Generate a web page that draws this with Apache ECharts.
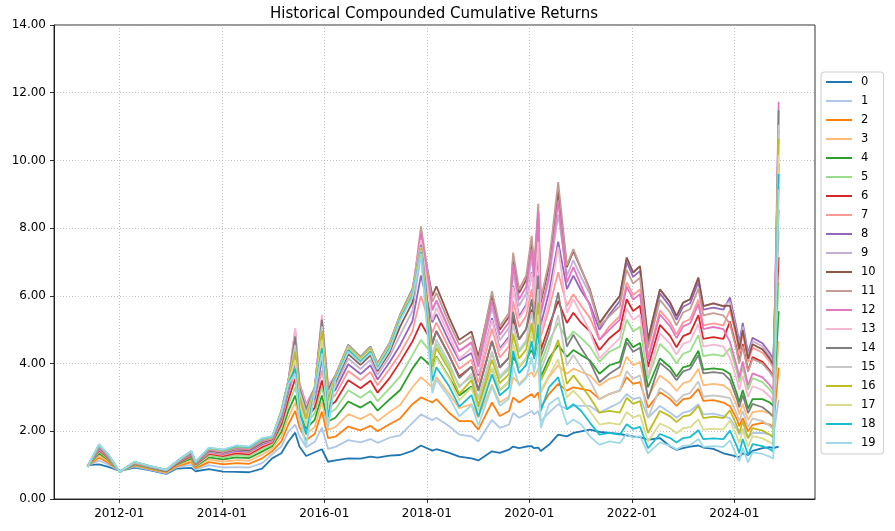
<!DOCTYPE html>
<html><head><meta charset="utf-8">
<script src="https://cdn.jsdelivr.net/npm/echarts@6/dist/echarts.min.js"></script>
<style>html,body{margin:0;padding:0;background:#fff}#chart{width:895px;height:531px}</style>
</head><body><div id="chart"></div>
<script>
const dates = [
'2011-05-20','2011-08-10','2011-10-15','2012-01-05','2012-04-20','2012-08-01','2012-12-01','2013-02-15','2013-05-28','2013-06-28',
'2013-10-01','2014-01-10','2014-04-15','2014-07-15','2014-10-15','2014-12-25','2015-03-01','2015-04-20','2015-06-08','2015-07-08',
'2015-08-25','2015-10-25','2015-12-15','2016-01-28','2016-03-20','2016-06-20','2016-09-15','2016-11-25','2017-01-15','2017-04-10',
'2017-06-25','2017-09-20','2017-11-20','2018-02-09','2018-03-10','2018-06-10','2018-08-20','2018-11-15','2019-01-03','2019-04-10',
'2019-06-05','2019-08-10','2019-09-08','2019-10-20','2019-12-10','2020-01-18','2020-02-05','2020-03-05','2020-03-23','2020-05-20',
'2020-07-25','2020-09-25','2020-11-10','2021-01-05','2021-03-08','2021-05-15','2021-07-25','2021-10-07','2021-11-25','2022-01-10',
'2022-02-28','2022-04-26','2022-07-20','2022-10-01','2022-11-15','2023-01-01','2023-02-20','2023-04-20','2023-05-25','2023-08-05',
'2023-10-15','2023-12-01','2024-01-20','2024-02-05','2024-03-01','2024-04-08','2024-05-10','2024-07-20','2024-09-10','2024-10-05',
'2024-11-12'];

const s0 = [1.00,1.02,0.95,0.83,0.93,0.85,0.74,0.90,0.92,0.82, 0.88,0.81,0.80,0.79,0.90,1.20,1.35,1.70,1.96,1.55, 1.27,1.38,1.47,1.10,1.14,1.20,1.19,1.25,1.22,1.28, 1.30,1.42,1.58,1.43,1.47,1.36,1.25,1.20,1.14,1.41, 1.36,1.46,1.55,1.50,1.55,1.56,1.50,1.52,1.42,1.60, 1.90,1.85,1.95,2.00,2.05,1.98,1.95,1.92,1.88,1.85, 1.83,1.75,1.80,1.55,1.45,1.50,1.55,1.58,1.52,1.48, 1.35,1.30,1.25,1.24,1.35,1.30,1.42,1.50,1.53,1.50, 1.55];
const s1 = [0.99,1.13,1.02,0.82,0.96,0.87,0.76,0.94,1.01,0.87, 1.00,0.93,0.94,0.93,1.06,1.32,1.55,1.99,2.20,1.86, 1.53,1.69,2.11,1.48,1.54,1.74,1.67,1.77,1.66,1.81, 1.88,2.25,2.50,2.33,2.40,2.15,1.90,1.85,1.70,2.34, 2.10,2.20,2.54,2.40,2.50,2.60,2.50,2.60,2.30,2.55, 2.80,2.65,2.75,2.75,2.75,2.55,2.70,2.85,3.10,2.95, 3.00,2.40,2.75,2.55,2.40,2.55,2.60,2.80,2.50,2.52, 2.45,2.38,2.05,1.90,2.08,1.80,1.95,1.95,1.90,1.85, 2.93];
const s2 = [0.98,1.22,1.07,0.82,0.99,0.89,0.78,0.97,1.09,0.91, 1.09,1.02,1.06,1.04,1.20,1.41,1.70,2.20,2.60,2.12, 1.74,1.92,2.58,1.80,1.84,2.14,2.03,2.16,2.00,2.21, 2.38,2.80,3.00,2.85,2.95,2.54,2.30,2.30,2.05,2.85, 2.45,2.60,3.00,2.85,3.00,3.10,3.00,3.15,2.70,3.10, 3.40,3.20,3.30,3.25,3.20,2.95,3.10,3.20,3.60,3.40, 3.45,2.70,3.15,2.95,2.75,2.95,2.98,3.25,2.90,2.92, 2.85,2.74,2.35,2.15,2.39,2.00,2.19,2.25,2.20,2.12, 3.88];
const s3 = [0.98,1.29,1.12,0.82,1.01,0.91,0.79,1.00,1.15,0.95, 1.17,1.10,1.15,1.13,1.31,1.49,1.84,2.40,2.85,2.33, 1.91,2.13,2.86,2.05,2.12,2.51,2.36,2.52,2.30,2.57, 2.78,3.30,3.60,3.30,3.60,3.10,2.68,2.80,2.40,3.38, 2.85,3.03,3.60,3.40,3.60,3.75,3.60,3.85,3.15,3.60, 3.95,3.70,3.85,3.75,3.65,3.35,3.55,3.65,4.20,3.95, 4.05,3.00,3.65,3.42,3.19,3.42,3.48,3.85,3.36,3.40, 3.36,3.21,2.75,2.50,2.81,2.33,2.57,2.60,2.52,2.42, 4.66];
const s4 = [0.97,1.35,1.15,0.81,1.02,0.92,0.81,1.02,1.20,0.97, 1.23,1.17,1.23,1.21,1.40,1.56,1.98,2.60,3.05,2.53, 2.08,2.34,3.06,2.29,2.40,2.88,2.70,2.88,2.61,2.94, 3.22,3.85,4.20,3.90,4.21,3.58,3.06,3.32,2.73,3.87, 3.21,3.47,4.20,3.90,4.16,4.40,4.20,4.60,3.60,4.15, 4.55,4.20,4.40,4.25,4.10,3.70,3.95,4.05,4.75,4.48, 4.61,3.30,4.15,3.89,3.62,3.89,3.95,4.38,3.82,3.86, 3.82,3.69,3.10,2.85,3.22,2.67,2.95,2.95,2.85,2.75, 5.55];
const s5 = [0.97,1.40,1.18,0.81,1.04,0.93,0.82,1.04,1.24,0.99, 1.28,1.22,1.29,1.27,1.47,1.61,2.10,2.78,3.30,2.72, 2.23,2.53,3.30,2.52,2.65,3.21,2.99,3.20,2.89,3.27, 3.62,4.25,4.70,4.26,4.58,3.91,3.34,3.61,2.98,4.30, 3.57,3.85,4.80,4.34,4.62,5.05,4.70,5.30,4.00,4.65, 5.20,4.70,4.95,4.75,4.50,4.05,4.35,4.50,5.30,4.95, 5.09,3.55,4.58,4.29,4.00,4.29,4.37,4.84,4.22,4.27, 4.22,4.46,3.75,3.45,3.90,3.23,3.57,3.45,3.23,3.09, 6.40];
const s6 = [0.97,1.44,1.21,0.81,1.05,0.94,0.82,1.05,1.27,1.02, 1.33,1.27,1.35,1.32,1.53,1.66,2.21,2.94,3.55,2.88, 2.37,2.70,3.50,2.72,2.87,3.51,3.27,3.49,3.14,3.57, 4.05,4.65,5.20,4.62,4.96,4.23,3.62,3.91,3.23,4.67, 3.88,4.18,5.35,4.71,5.02,5.60,5.10,5.95,4.40,5.10, 5.85,5.20,5.50,5.20,4.95,4.40,4.75,5.00,5.90,5.55, 5.71,3.90,5.14,4.81,4.48,4.81,4.90,5.43,4.73,4.78, 4.73,5.24,4.40,4.05,4.58,3.79,4.19,4.05,3.79,3.63, 7.14];
const s7 = [0.96,1.47,1.23,0.81,1.06,0.95,0.83,1.07,1.30,1.03, 1.36,1.30,1.39,1.36,1.58,1.69,2.31,3.09,3.80,3.03, 2.49,2.86,3.80,2.90,3.07,3.78,3.51,3.75,3.36,3.84, 4.30,4.95,6.00,4.92,5.21,4.44,3.85,4.11,3.44,5.03, 4.18,4.51,5.85,5.08,5.41,6.20,5.60,6.60,4.80,5.60, 6.70,5.70,6.05,5.70,5.35,4.70,5.10,5.40,6.40,6.02, 6.19,4.20,5.57,5.22,4.86,5.22,5.31,5.89,5.13,5.19, 5.13,5.59,4.70,4.32,4.89,4.05,4.47,4.32,4.05,3.87, 7.90];
const s8 = [0.96,1.50,1.25,0.81,1.07,0.95,0.84,1.08,1.32,1.04, 1.39,1.33,1.42,1.40,1.62,1.72,2.39,3.19,4.05,3.16, 2.60,2.97,4.10,3.06,3.22,3.98,3.69,3.95,3.53,4.04, 4.55,5.25,6.60,5.22,5.46,4.65,4.09,4.31,3.65,5.34, 4.44,4.79,6.30,5.39,5.74,6.70,6.00,7.20,5.15,6.10, 7.60,6.20,6.60,6.15,5.75,5.00,5.45,5.85,7.00,6.56, 6.74,4.60,6.07,5.68,5.29,5.68,5.78,6.41,5.59,5.65, 5.59,5.95,5.00,4.60,5.20,4.31,4.76,4.60,4.31,4.12, 8.55];
const s9 = [0.96,1.52,1.26,0.80,1.07,0.96,0.84,1.08,1.34,1.05, 1.41,1.35,1.45,1.42,1.65,1.74,2.45,3.28,4.30,3.27, 2.69,3.07,4.40,3.19,3.35,4.15,3.84,4.11,3.67,4.20, 4.85,5.55,7.20,5.58,5.84,4.98,4.37,4.60,3.91,5.65, 4.69,5.06,6.70,5.70,6.07,7.15,6.35,7.80,5.45,6.50, 8.40,6.60,7.05,6.55,6.05,5.15,5.60,6.00,7.13,6.69, 6.88,4.71,6.19,5.80,5.40,5.80,5.90,6.54,5.70,5.78, 5.70,5.83,4.90,4.51,5.10,4.22,4.66,4.51,4.22,4.04, 9.20];
const s10 = [0.96,1.54,1.27,0.80,1.08,0.96,0.84,1.09,1.35,1.06, 1.43,1.37,1.47,1.44,1.67,1.76,2.50,3.36,4.55,3.34, 2.75,3.15,4.70,3.28,3.45,4.28,3.96,4.24,3.78,4.33, 5.10,5.80,7.80,6.00,6.28,5.35,4.70,4.95,4.20,6.02, 5.00,5.39,7.13,6.08,6.47,7.60,6.76,8.45,5.80,6.85, 9.10,6.85,7.32,6.78,6.19,5.20,5.60,6.00,7.13,6.69, 6.88,4.71,6.19,5.80,5.40,5.80,5.90,6.54,5.70,5.78, 5.70,5.71,4.80,4.42,4.99,4.14,4.57,4.42,4.14,3.96, 9.90];
const s11 = [0.96,1.55,1.28,0.80,1.08,0.97,0.85,1.10,1.37,1.07, 1.45,1.39,1.49,1.47,1.70,1.78,2.55,3.43,4.80,3.40, 2.80,3.22,5.00,3.35,3.55,4.42,4.08,4.37,3.89,4.47, 5.30,6.00,8.05,5.82,6.09,5.19,4.56,4.80,4.07,6.14, 5.10,5.50,7.28,6.20,6.60,7.77,6.90,8.72,5.90,7.00, 9.36,6.90,7.38,6.80,6.15,5.10,5.40,5.70,6.77,6.36, 6.54,4.45,5.88,5.51,5.13,5.51,5.61,6.21,5.42,5.49, 5.42,5.18,4.35,4.00,4.52,3.75,4.14,4.00,3.75,3.58, 10.90];
const s12 = [0.95,1.57,1.29,0.80,1.08,0.97,0.85,1.10,1.38,1.07, 1.46,1.40,1.51,1.48,1.72,1.79,2.59,3.48,5.00,3.40, 2.80,3.28,5.30,3.35,3.62,4.52,4.17,4.47,3.97,4.57, 5.42,6.15,7.85,5.58,5.87,5.00,4.37,4.63,3.91,5.83, 4.85,5.23,6.92,5.89,6.27,7.38,6.56,8.50,5.50,6.60, 8.80,6.40,6.85,6.30,5.70,4.70,5.00,5.30,6.27,5.89, 6.05,4.10,5.45,5.10,4.75,5.10,5.19,5.76,5.02,5.08, 5.02,4.64,3.90,3.59,4.06,3.36,3.71,3.59,3.36,3.21, 11.73];
const s13 = [0.95,1.58,1.29,0.80,1.09,0.97,0.85,1.10,1.39,1.08, 1.48,1.41,1.53,1.50,1.74,1.80,2.60,3.50,5.05,3.36, 2.74,3.30,5.45,3.31,3.65,4.55,4.20,4.50,4.00,4.60, 5.45,6.20,7.65,5.28,5.65,4.82,4.14,4.46,3.70,5.28, 4.39,4.73,6.26,5.33,5.68,6.68,5.93,7.60,4.90,5.80, 7.45,5.50,5.90,5.45,4.95,4.15,4.45,4.75,5.63,5.29, 5.44,3.65,4.89,4.58,4.27,4.58,4.66,5.17,4.50,4.56, 4.50,4.17,3.50,3.22,3.64,3.02,3.33,3.22,3.02,2.88, 11.30];
const s14 = [0.95,1.58,1.30,0.80,1.09,0.97,0.85,1.11,1.39,1.08, 1.48,1.42,1.53,1.50,1.75,1.81,2.60,3.50,4.80,3.29, 2.65,3.30,5.30,3.22,3.65,4.55,4.20,4.50,4.00,4.60, 5.45,6.20,7.50,4.56,4.96,4.23,3.57,3.91,3.19,4.67, 3.88,4.18,5.53,4.71,5.02,5.90,5.24,6.60,4.20,4.90, 6.10,4.50,4.85,4.45,4.05,3.45,3.70,3.90,4.63,4.35, 4.47,2.95,4.02,3.77,3.51,3.77,3.84,4.25,3.71,3.75, 3.71,3.51,2.95,2.71,3.07,2.54,2.81,2.71,2.54,2.43, 11.48];
const s15 = [0.95,1.59,1.30,0.80,1.09,0.97,0.85,1.11,1.40,1.09, 1.49,1.43,1.54,1.51,1.76,1.82,2.59,3.48,4.55,3.18, 2.52,3.28,5.10,3.08,3.62,4.52,4.17,4.47,3.97,4.57, 5.42,6.15,7.45,4.20,4.71,4.01,3.29,3.71,2.94,4.36, 3.62,3.91,5.17,4.40,4.69,5.52,4.90,6.20,3.80,4.45, 5.43,3.95,4.25,3.90,3.50,2.95,3.10,3.20,3.78,3.55, 3.65,2.40,3.28,3.07,2.86,3.07,3.13,3.47,3.02,3.06, 3.02,2.98,2.50,2.30,2.60,2.12,2.38,2.30,2.16,2.06, 11.05];
const s16 = [0.95,1.60,1.31,0.80,1.09,0.97,0.86,1.11,1.40,1.09, 1.49,1.43,1.55,1.52,1.76,1.82,2.58,3.46,4.35,3.03, 2.37,3.26,4.95,2.90,3.60,4.48,4.14,4.44,3.94,4.53, 5.40,6.10,7.40,3.96,4.46,3.80,3.10,3.51,2.77,4.11, 3.42,3.69,4.88,4.15,4.42,5.20,4.62,5.80,3.50,4.00, 4.70,3.40,3.65,3.35,3.00,2.55,2.60,2.55,2.99,2.81, 2.89,1.95,2.60,2.44,2.27,2.44,2.48,2.75,2.39,2.43, 2.39,2.62,2.15,1.95,2.29,1.80,2.09,2.02,1.90,1.81, 10.64];
const s17 = [0.95,1.60,1.31,0.80,1.09,0.98,0.86,1.11,1.41,1.09, 1.50,1.44,1.56,1.53,1.77,1.83,2.56,3.45,4.10,2.85, 2.16,3.24,4.70,2.68,3.57,4.45,4.11,4.40,3.92,4.50, 5.37,6.05,7.35,3.72,4.18,3.56,2.91,3.29,2.60,3.87, 3.21,3.47,4.59,3.91,4.16,4.90,4.35,5.45,3.20,3.65, 4.12,3.00,3.20,2.95,2.60,2.20,2.25,2.20,2.57,2.41, 2.48,1.70,2.23,2.09,1.94,2.09,2.12,2.35,2.05,2.08, 2.05,2.32,1.85,1.65,2.03,1.55,1.86,1.79,1.68,1.61, 10.15];
const s18 = [0.95,1.61,1.31,0.80,1.10,0.98,0.86,1.12,1.41,1.09, 1.51,1.45,1.56,1.53,1.78,1.84,2.54,3.42,3.85,2.62, 1.91,3.21,4.45,2.41,3.54,4.40,4.06,4.35,3.87,4.45, 5.33,6.00,7.30,3.48,3.89,3.32,2.73,3.07,2.44,3.68, 3.06,3.30,4.37,3.72,3.96,4.66,4.14,5.15,2.60,3.30, 3.60,2.65,2.80,2.60,2.25,1.90,1.95,1.90,2.21,2.07, 2.13,1.50,1.92,1.80,1.67,1.80,1.83,2.03,1.77,1.79, 1.77,2.02,1.55,1.35,1.77,1.30,1.62,1.56,1.47,1.40, 9.60];
const s19 = [0.95,1.62,1.32,0.80,1.10,0.98,0.86,1.12,1.42,1.10, 1.52,1.46,1.58,1.55,1.80,1.85,2.53,3.39,3.70,2.38, 1.58,3.18,4.30,2.11,3.50,4.35,4.02,4.31,3.83,4.40, 5.28,5.95,7.25,3.12,3.52,3.00,2.44,2.77,2.18,3.32, 2.75,2.97,3.93,3.35,3.56,4.20,3.73,4.60,2.10,2.80, 3.00,2.20,2.35,2.20,1.85,1.60,1.70,1.65,1.93,1.81, 1.86,1.35,1.67,1.57,1.46,1.57,1.59,1.77,1.54,1.56, 1.54,1.73,1.25,1.12,1.51,1.08,1.38,1.33,1.25,1.19, 9.15];

const seriesNames = ['0','1','2','3','4','5','6','7','8','9','10','11','12','13','14','15','16','17','18','19'];
const xTickLabels = ['2012-01','2014-01','2016-01','2018-01','2020-01','2022-01','2024-01'];
const palette = ['#1f77b4','#aec7e8','#ff7f0e','#ffbb78','#2ca02c','#98df8a','#d62728','#ff9896','#9467bd','#c5b0d5',
                 '#8c564b','#c49c94','#e377c2','#f7b6d2','#7f7f7f','#c7c7c7','#bcbd22','#dbdb8d','#17becf','#9edae5'];
const titleText = 'Historical Compounded Cumulative Returns';

const allValues = [s0,s1,s2,s3,s4,s5,s6,s7,s8,s9,s10,s11,s12,s13,s14,s15,s16,s17,s18,s19];
const ts = d => Date.parse(d + 'T00:00:00Z');
const xs = dates.map(ts);
const xTickValues = xTickLabels.map(l => ts(l + '-01'));

const chart = echarts.init(document.getElementById('chart'), null, {renderer: 'canvas'});
const font = 'DejaVu Sans';
chart.setOption({
  animation: false,
  backgroundColor: '#ffffff',
  textStyle: {fontFamily: font},
  title: {
    text: titleText,
    left: 270, top: 7, padding: 0,
    textStyle: {fontSize: 15, fontWeight: 'normal', color: '#000', fontFamily: font}
  },
  grid: {left: 54, top: 25, width: 761, height: 474, containLabel: false, outerBoundsMode: 'none',
         show: true, borderColor: '#000', borderWidth: 0.8, backgroundColor: 'rgba(0,0,0,0)'},
  legend: {
    orient: 'vertical', left: 821, top: 72,
    data: seriesNames, icon: 'rect', itemWidth: 26, itemHeight: 2, itemGap: 5,
    textStyle: {fontSize: 11.5, color: '#000', lineHeight: 14, fontFamily: font, padding: [0, 0, 0, 4]},
    borderColor: '#cccccc', borderWidth: 1, borderRadius: 3, padding: [3, 8, 4, 5],
    backgroundColor: '#fff', selectedMode: false
  },
  xAxis: {
    type: 'value', min: ts('2010-09-23'), max: ts('2025-07-29'),
    axisLine: {show: true, lineStyle: {color: '#000', width: 0.8}},
    axisTick: {show: true, customValues: xTickValues, length: 4, lineStyle: {color: '#000', width: 0.8}},
    axisLabel: {show: true, customValues: xTickValues, margin: 9, fontSize: 12, color: '#000', fontFamily: font,
      formatter: v => { let i = xTickValues.findIndex(t => Math.abs(t - v) < 86400000); return i >= 0 ? xTickLabels[i] : ''; }},
    splitLine: {show: true, lineStyle: {color: '#b0b0b0', width: 0.8, type: [1, 2]}}
  },
  yAxis: {
    type: 'value', min: 0, max: 14, interval: 2,
    axisLine: {show: true, lineStyle: {color: '#000', width: 0.8}},
    axisTick: {show: true, length: 4, lineStyle: {color: '#000', width: 0.8}},
    axisLabel: {margin: 8, fontSize: 12, color: '#000', fontFamily: font, formatter: v => v.toFixed(2)},
    splitLine: {show: true, lineStyle: {color: '#b0b0b0', width: 0.8, type: [1, 2]}}
  },
  series: allValues.map((vals, k) => ({
    name: seriesNames[k], type: 'line', showSymbol: false, symbol: 'none',
    data: vals.map((v, i) => [xs[i], v]),
    lineStyle: {width: 1.8, color: palette[k]},
    itemStyle: {color: palette[k]},
    emphasis: {disabled: true}, silent: true
  }))
});
</script>
</body></html>
